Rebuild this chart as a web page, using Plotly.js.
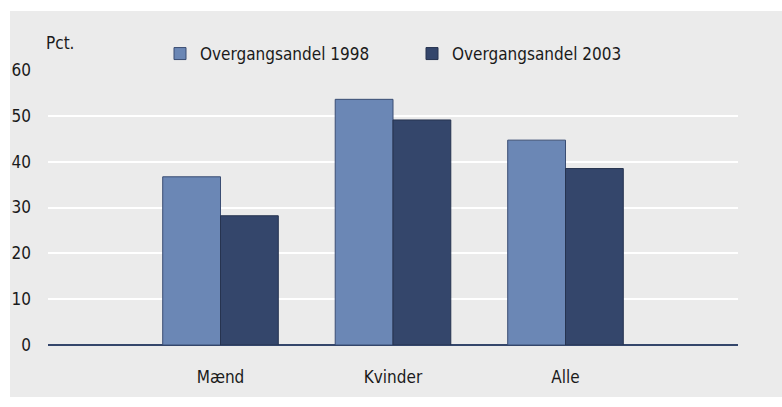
<!DOCTYPE html>
<html><head><meta charset="utf-8">
<script src="https://cdn.plot.ly/plotly-3.0.1.min.js"></script>
<style>body{margin:0;padding:0;background:#fff}#chart{width:782px;height:407px}</style>
</head><body><div id="chart"></div>
<script>
const categories = ["Mænd", "Kvinder", "Alle"];
const seriesNames = ["Overgangsandel 1998", "Overgangsandel 2003"];
const values1998 = [36.7, 53.6, 44.7];
const values2003 = [28.2, 49.1, 38.5];
const yTicks = [0, 10, 20, 30, 40, 50, 60];
const yAxisLabel = "Pct.";

const FONT = "DejaVu Sans Condensed, Liberation Sans Narrow, sans-serif";
const traces = [
  {type:"bar", name:seriesNames[0], x:categories, y:values1998,
   marker:{color:"#6b87b5", line:{color:"#3a4d73", width:1}}},
  {type:"bar", name:seriesNames[1], x:categories, y:values2003,
   marker:{color:"#34466b", line:{color:"#26334f", width:1}}}
];
const W=782,H=407,L=48,R=44,T=70,B=62;
const pw=W-L-R, ph=H-T-B;
const px=v=>(v-L)/pw, py=v=>(H-B-v)/ph;
const layout = {
  width:W, height:H,
  margin:{l:L,r:R,t:T,b:B,pad:0},
  paper_bgcolor:"#ffffff",
  plot_bgcolor:"#dcdcdc",
  barmode:"group", bargap:0.33, bargroupgap:0,
  font:{family:FONT, size:17, color:"#1a1a1a"},
  showlegend:true,
  legend:{orientation:"h", x:px(160), xanchor:"left", y:py(72), yanchor:"bottom",
          bgcolor:"rgba(0,0,0,0)", font:{family:FONT,size:17,color:"#1a1a1a"},
          itemwidth:30, traceorder:"normal", entrywidth:207},
  xaxis:{type:"category", range:[-1,3], showgrid:false, zeroline:false, ticks:"",
         showline:false, ticklabelstandoff:20, tickfont:{family:FONT,size:17}, fixedrange:true},
  yaxis:{range:[0,60], tickvals:yTicks, showgrid:true, gridcolor:"#ffffff", gridwidth:2,
         zeroline:true, zerolinecolor:"#34466b", zerolinewidth:2, ticks:"",
         ticklabelstandoff:16, tickfont:{family:FONT,size:17}, showline:false, fixedrange:true},
  shapes:[
    {type:"rect", xref:"paper", yref:"paper", x0:px(10), x1:px(782), y0:py(397), y1:py(11),
     fillcolor:"#ebebeb", line:{width:0}, layer:"below"},
    {type:"rect", xref:"paper", yref:"paper", x0:px(145), x1:px(641), y0:py(71), y1:py(36),
     fillcolor:"#ebebeb", line:{width:0}, layer:"above"}
  ],
  annotations:[
    {text:yAxisLabel, xref:"paper", yref:"paper", x:px(44), y:py(55), xanchor:"left", yanchor:"bottom",
     showarrow:false, font:{family:FONT,size:17,color:"#1a1a1a"}}
  ]
};
Plotly.newPlot("chart", traces, layout, {displayModeBar:false, staticPlot:true});
</script></body></html>
